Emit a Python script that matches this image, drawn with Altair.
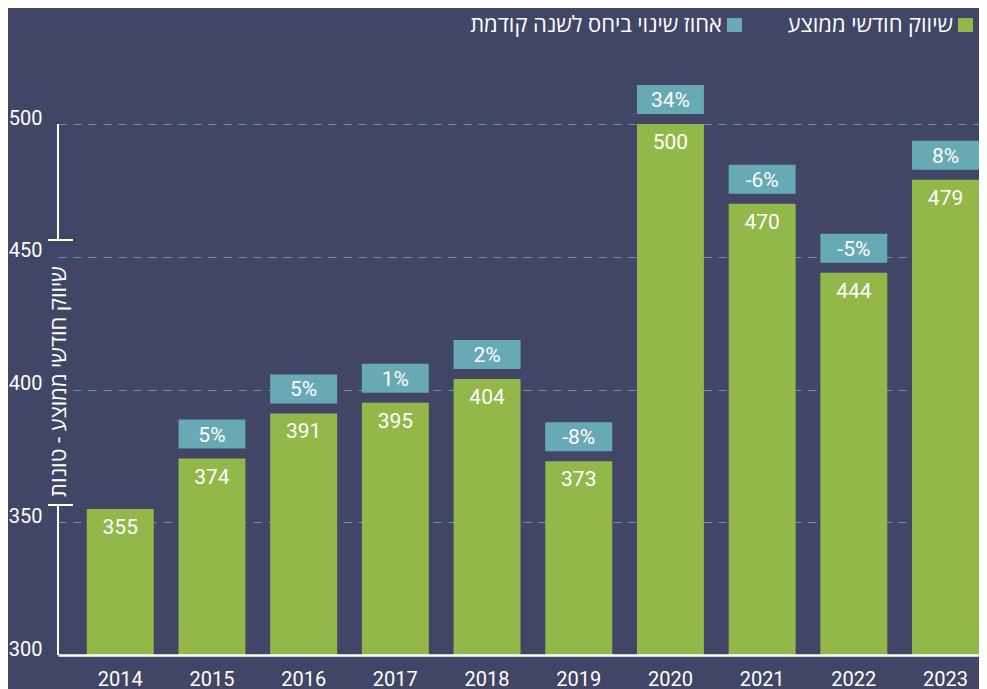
import altair as alt
import pandas as pd

# ---- data ----
years = ["2014", "2015", "2016", "2017", "2018", "2019", "2020", "2021", "2022", "2023"]
values = [355, 374, 391, 395, 404, 373, 500, 470, 444, 479]
changes = [None, "5%", "5%", "1%", "2%", "-8%", "34%", "-6%", "-5%", "8%"]
y_ticks = [300, 350, 400, 450, 500]
y_min, y_max = 300, 500
legend_labels = ["שיווק חודשי ממוצע", "אחוז שינוי ביחס לשנה קודמת"]
y_title = "שיווק חודשי ממוצע - טונות"

# ---- style ----
BG = "#414667"
GREEN = "#92b84a"
TEAL = "#67a9b5"
GRID = "#5d9dad"
WHITE = "#ffffff"
FONT = "Roboto, 'Open Sans', 'Liberation Sans', sans-serif"

df = pd.DataFrame({"year": years, "value": values, "change": changes})
df_pct = df[df["change"].notna()].reset_index(drop=True)

x_enc = alt.X(
    "year:N",
    sort=years,
    title=None,
    scale=alt.Scale(paddingInner=0.27, paddingOuter=0.157, align=1),
    axis=alt.Axis(
        labelAngle=0,
        labelFontSize=20,
        labelColor=WHITE,
        labelPadding=14,
        labelFont=FONT,
        ticks=False,
        domainColor=WHITE,
        domainWidth=2.5,
        grid=False,
        zindex=2,
    ),
)
y_enc = alt.Y(
    "value:Q",
    scale=alt.Scale(domain=[y_min, y_max], nice=False, zero=False),
    title=y_title,
    axis=alt.Axis(
        values=y_ticks,
        labelFontSize=20,
        labelColor=WHITE,
        labelFont=FONT,
        labelBaseline="alphabetic",
        labelPadding=16,
        ticks=False,
        domain=False,
        grid=True,
        gridColor=GRID,
        gridDash=[8, 7],
        gridWidth=1.2,
        titleAngle=270,
        titleX=0,
        titleY=257,
        titleAlign="center",
        titleBaseline="middle",
        titleFontSize=22,
        titleFontWeight="normal",
        titleColor=WHITE,
        titleFont=FONT,
    ),
)

bars = alt.Chart(df).mark_bar(color=GREEN).encode(
    x=x_enc, y=y_enc, y2=alt.datum(y_min)
)

value_text = alt.Chart(df).mark_text(
    color=WHITE, fontSize=21, font=FONT, baseline="alphabetic", dy=25
).encode(x=x_enc, y=y_enc, text="value:Q")

boxes = alt.Chart(df_pct).mark_bar(
    color=TEAL, yOffset=-10, y2Offset=-39
).encode(x=x_enc, y=y_enc, y2="value:Q")

pct_text = alt.Chart(df_pct).mark_text(
    color=WHITE, fontSize=21, font=FONT, baseline="alphabetic", dy=-17
).encode(x=x_enc, y=y_enc, text="change:N")

one = pd.DataFrame({"k": [0]})

axis_top = alt.Chart(one).mark_rule(color=WHITE, strokeWidth=2).encode(
    x=alt.value(0), y=alt.value(0), y2=alt.value(116)
)
axis_bottom = alt.Chart(one).mark_rule(color=WHITE, strokeWidth=2).encode(
    x=alt.value(0), y=alt.value(381), y2=alt.value(531)
)
tick_top = alt.Chart(one).mark_rule(color=WHITE, strokeWidth=2).encode(
    x=alt.value(-10), x2=alt.value(15), y=alt.value(116)
)
tick_bottom = alt.Chart(one).mark_rule(color=WHITE, strokeWidth=2).encode(
    x=alt.value(-10), x2=alt.value(15), y=alt.value(381)
)

leg_sq1 = alt.Chart(one).mark_rect(color=GREEN).encode(
    x=alt.value(900), x2=alt.value(915), y=alt.value(-106), y2=alt.value(-92)
)
leg_sq2 = alt.Chart(one).mark_rect(color=TEAL).encode(
    x=alt.value(669), x2=alt.value(684), y=alt.value(-106), y2=alt.value(-92)
)
leg_t1 = alt.Chart(one).mark_text(
    color=WHITE, fontSize=22, font=FONT, align="right", baseline="alphabetic"
).encode(x=alt.value(895), y=alt.value(-92), text=alt.value(legend_labels[0]))
leg_t2 = alt.Chart(one).mark_text(
    color=WHITE, fontSize=22, font=FONT, align="right", baseline="alphabetic"
).encode(x=alt.value(664), y=alt.value(-92), text=alt.value(legend_labels[1]))

chart = alt.layer(
    bars, boxes, value_text, pct_text,
    axis_top, axis_bottom, tick_top, tick_bottom,
    leg_sq1, leg_sq2, leg_t1, leg_t2,
).properties(
    width=921,
    height=531,
    background=BG,
    autosize="none",
    padding={"left": 50, "top": 116, "right": 0, "bottom": 34},
).configure_view(stroke=None)

chart.save("out.html", embed_options={"renderer": "svg", "actions": False})
